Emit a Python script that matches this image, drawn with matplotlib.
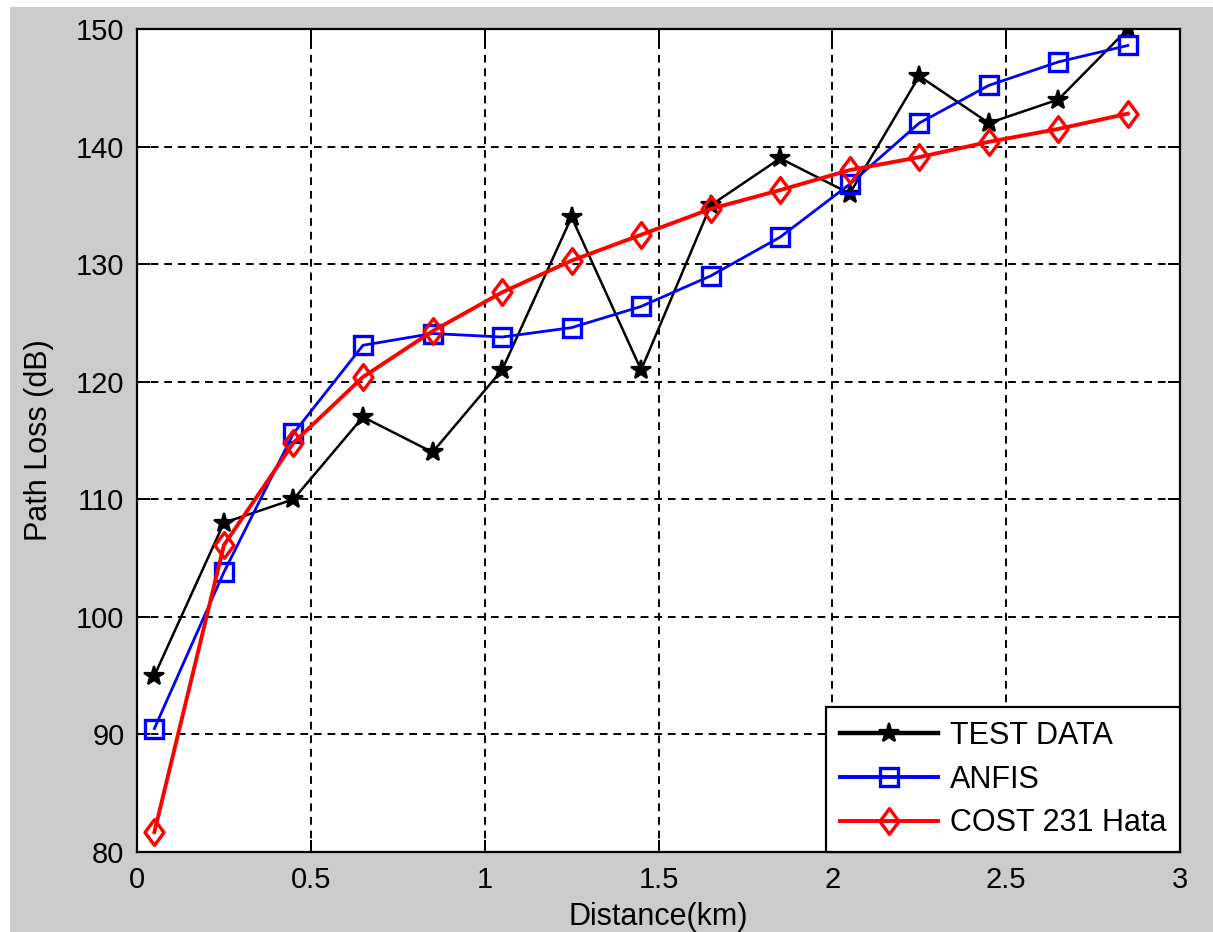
import matplotlib
matplotlib.use("Agg")
import matplotlib.pyplot as plt
from matplotlib.patches import Rectangle
from matplotlib.path import Path

plt.rcParams['font.family'] = ['Liberation Sans', 'DejaVu Sans']

distance_km = [0.05, 0.25, 0.45, 0.65, 0.85, 1.05, 1.25, 1.45, 1.65, 1.85, 2.05, 2.25, 2.45, 2.65, 2.85]
test_data = [95, 108, 110, 117, 114, 121, 134, 121, 135, 139, 136, 146, 142, 144, 150]
anfis = [90.5, 103.8, 115.6, 123.1, 124.1, 123.8, 124.6, 126.4, 129.0, 132.3, 136.8, 142.0, 145.2, 147.2, 148.6]
cost231 = [81.7, 106.1, 114.8, 120.4, 124.3, 127.6, 130.3, 132.5, 134.7, 136.3, 138.0, 139.1, 140.4, 141.5, 142.8]

x_ticks = [0, 0.5, 1, 1.5, 2, 2.5, 3]
x_tick_labels = ['0', '0.5', '1', '1.5', '2', '2.5', '3']
y_ticks = [80, 90, 100, 110, 120, 130, 140, 150]

# MATLAB-style diamond (taller than wide)
diamond = Path([(0, 1), (0.74, 0), (0, -1), (-0.74, 0), (0, 1)],
               [Path.MOVETO, Path.LINETO, Path.LINETO, Path.LINETO, Path.CLOSEPOLY])

fig = plt.figure(figsize=(12.13, 9.32), dpi=100, facecolor='white')
# grey figure panel behind the axes
fig.patches.append(Rectangle((10 / 1213, 0), 1 - 10 / 1213, 1 - 7 / 932,
                             transform=fig.transFigure, facecolor='#cccccc',
                             edgecolor='none', zorder=-10))

ax = fig.add_axes([137 / 1213, 80 / 932, (1180 - 137) / 1213, (852 - 29) / 932])
ax.set_facecolor('white')

ax.plot(distance_km, test_data, color='black', lw=1.8, marker='*', ms=15,
        mec='black', mfc='black', mew=1.6, label='TEST DATA', zorder=3)
ax.plot(distance_km, anfis, color='#0000ff', lw=2.0, marker='s', ms=13.5,
        mec='#0000ff', mfc='none', mew=2.4, label='ANFIS', zorder=4)
ax.plot(distance_km, cost231, color='#ff0000', lw=2.8, marker=diamond, ms=18.5,
        mec='#ff0000', mfc='none', mew=2.4, label='COST 231 Hata', zorder=5)

ax.set_xlim(0, 3)
ax.set_ylim(80, 150)
ax.set_xticks(x_ticks)
ax.set_xticklabels(x_tick_labels)
ax.set_yticks(y_ticks)

ax.grid(True, color='black', linestyle=(0, (4, 3)), linewidth=1.4)
ax.tick_params(direction='in', length=9, width=1.4, top=True, right=True,
               labelsize=21, colors='black')
ax.tick_params(axis='y', pad=9)
ax.tick_params(axis='x', pad=10)
for s in ax.spines.values():
    s.set_linewidth(1.6)
    s.set_color('black')

ax.set_xlabel('Distance(km)', fontsize=22, labelpad=6)
ax.set_ylabel('Path Loss (dB)', fontsize=22, labelpad=16)

leg = ax.legend(loc='lower right', fontsize=22, frameon=True, fancybox=False,
                framealpha=1, borderaxespad=0, handlelength=3.2,
                labelspacing=0.45, borderpad=0.45, handletextpad=0.4)
leg.get_frame().set_edgecolor('black')
leg.get_frame().set_linewidth(1.6)
leg.set_zorder(10)
for h in leg.legend_handles:
    h.set_linewidth(3.2 if h.get_color() == 'black' else 2.8)

fig.savefig('out.png', dpi=100, facecolor=fig.get_facecolor())
